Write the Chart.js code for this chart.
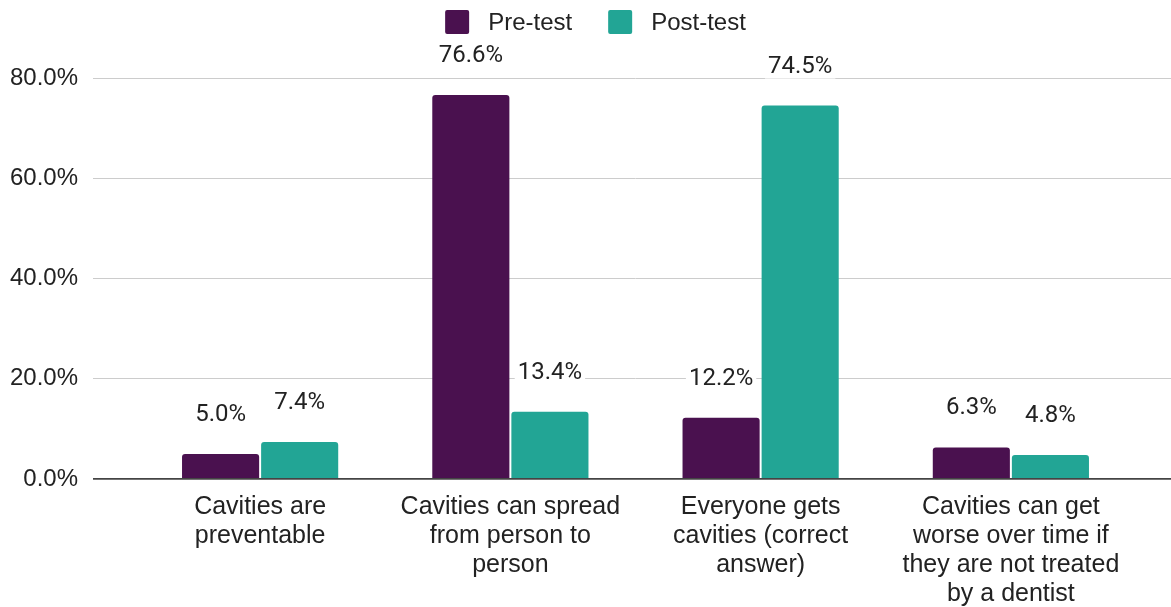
<!DOCTYPE html>
<html>
<head>
<meta charset="utf-8">
<script src="https://cdn.jsdelivr.net/npm/chart.js@4/dist/chart.umd.min.js"></script>
<style>
html,body{margin:0;padding:0;background:#fff;}
#wrap{width:1171px;height:607px;position:relative;}
</style>
</head>
<body>
<div id="wrap"><canvas id="c"></canvas></div>
<script>
const categories = [
  ["Cavities are", "preventable"],
  ["Cavities can spread", "from person to", "person"],
  ["Everyone gets", "cavities (correct", "answer)"],
  ["Cavities can get", "worse over time if", "they are not treated", "by a dentist"]
];
const preTest = [5.0, 76.6, 12.2, 6.3];
const postTest = [7.4, 13.4, 74.5, 4.8];
const seriesNames = ["Pre-test", "Post-test"];
const yTicks = [0, 20, 40, 60, 80];

const ARIAL = "'Liberation Sans', Arial, sans-serif";
const ROBOTO = "Roboto, 'Liberation Sans', Arial, sans-serif";

const valueLabels = {
  id: 'valueLabels',
  afterDatasetsDraw(chart) {
    const ctx = chart.ctx;
    ctx.save();
    ctx.font = "24px " + ROBOTO;
    ctx.textAlign = "center";
    ctx.textBaseline = "middle";
    chart.data.datasets.forEach((ds, i) => {
      const meta = chart.getDatasetMeta(i);
      meta.data.forEach((bar, j) => {
        const txt = ds.data[j].toFixed(1) + "%";
        const w = ctx.measureText(txt).width;
        const cy = bar.y - 39;
        ctx.fillStyle = "#fff";
        ctx.fillRect(bar.x - w / 2 - 3, cy - 12, w + 6, 24);
        ctx.fillStyle = "#222";
        ctx.fillText(txt, bar.x, cy);
      });
    });
    ctx.restore();
  }
};

const customLegend = {
  id: 'customLegend',
  afterDraw(chart) {
    const ctx = chart.ctx;
    ctx.save();
    ctx.font = "24px " + ARIAL;
    ctx.textBaseline = "middle";
    ctx.textAlign = "left";
    const box = 24, gapText = 19, gapItem = 36;
    const items = chart.data.datasets.map(ds => ({
      text: ds.label, color: ds.backgroundColor, w: ctx.measureText(ds.label).width
    }));
    let total = 0;
    items.forEach((it, k) => { total += box + gapText + it.w + (k < items.length - 1 ? gapItem : 0); });
    let x = chart.width / 2 + 10 - total / 2;
    const y = 10;
    items.forEach(it => {
      ctx.fillStyle = it.color;
      ctx.beginPath();
      ctx.roundRect(x, y, box, box, 2);
      ctx.fill();
      ctx.fillStyle = "#222";
      ctx.fillText(it.text, x + box + gapText, y + box / 2 + 1);
      x += box + gapText + it.w + gapItem;
    });
    ctx.restore();
  }
};

new Chart(document.getElementById('c'), {
  type: 'bar',
  data: {
    labels: categories,
    datasets: [
      { label: seriesNames[0], data: preTest, backgroundColor: '#4a114f',
        borderRadius: 3, borderSkipped: 'start' },
      { label: seriesNames[1], data: postTest, backgroundColor: '#22a595',
        borderRadius: 3, borderSkipped: 'start' }
    ]
  },
  options: {
    responsive: true,
    maintainAspectRatio: false,
    animation: false,
    layout: { padding: { top: 78, left: 0, right: 0, bottom: 0 } },
    datasets: { bar: { categoryPercentage: 0.632, barPercentage: 0.975 } },
    plugins: {
      legend: { display: false },
      tooltip: { enabled: false }
    },
    scales: {
      x: {
        grid: { display: false, drawTicks: false },
        border: { display: false },
        afterFit(scale) { scale.height = 128; },
        ticks: {
          color: '#222',
          padding: 13,
          maxRotation: 0,
          autoSkip: false,
          font: { family: ARIAL, size: 25, lineHeight: 1.17 }
        }
      },
      y: {
        position: 'left',
        min: 0, max: 80,
        afterBuildTicks(scale) { scale.ticks = yTicks.map(v => ({ value: v })); },
        afterFit(scale) { scale.width = 135; },
        border: { display: false },
        grid: {
          tickLength: 42,
          color: ctx => (ctx.tick && ctx.tick.value === 0) ? '#444' : '#cccccc',
          lineWidth: ctx => (ctx.tick && ctx.tick.value === 0) ? 1.8 : 1
        },
        ticks: {
          padding: 15,
          color: '#222',
          font: { family: ARIAL, size: 24 },
          callback: v => Number(v).toFixed(1) + "%"
        }
      },
      y2: {
        position: 'right',
        min: 0, max: 80,
        afterBuildTicks(scale) { scale.ticks = yTicks.map(v => ({ value: v })); },
        afterFit(scale) { scale.width = 35; },
        border: { display: false },
        grid: {
          drawOnChartArea: false,
          tickLength: 35,
          color: ctx => (ctx.tick && ctx.tick.value === 0) ? '#444' : '#cccccc',
          lineWidth: ctx => (ctx.tick && ctx.tick.value === 0) ? 1.8 : 1
        },
        ticks: { display: false }
      }
    }
  },
  plugins: [valueLabels, customLegend]
});
</script>
</body>
</html>
